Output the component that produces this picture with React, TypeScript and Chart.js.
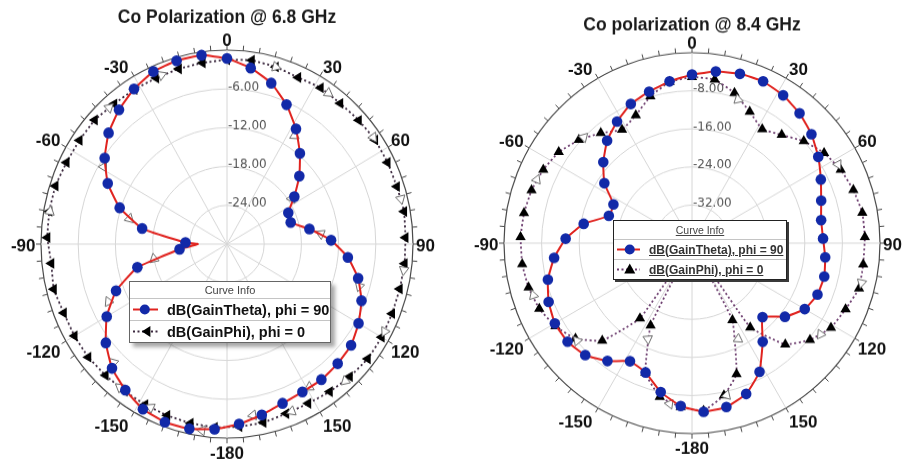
import React, { useEffect, useRef } from 'react';
import { Chart, registerables } from 'chart.js';

Chart.register(...registerables);

// ---------------- shared ----------------
const angleTickLabels = [0, 30, 60, 90, 120, 150, -180, -150, -120, -90, -60, -30];
const seriesNames = ['dB(GainTheta), phi = 90', 'dB(GainPhi), phi = 0'];
const legendTitle = 'Curve Info';

// ---------------- 6.8 GHz ----------------
const title68 = 'Co Polarization @ 6.8 GHz';
const radialTicks68 = [-30, -24, -18, -12, -6, 0];
const thetaAngles68 = [0, 8, 16, 24, 32, 40, 48, 56, 64, 72, 80, 88, 96, 104, 112, 120, 128, 136, 144, 152, 160, 168, 176, 184, 192, 200, 208, 216, 224, 232, 240, 248, 256, 264, 270, 272, 280, 288, 296, 304, 312, 320, 328, 336, 344, 352];
const thetaGain68 = [-1.3, -2.5, -4.1, -6.4, -9.0, -11.7, -14.3, -16.9, -19.0, -19.2, -16.5, -13.2, -10.4, -8.2, -6.6, -5.5, -4.6, -4.3, -4.1, -4.1, -3.8, -3.0, -2.1, -1.3, -0.8, -0.7, -1.1, -2.1, -3.3, -5.2, -7.6, -10.7, -15.1, -22.3, -25.3, -23.3, -16.1, -11.8, -8.6, -6.2, -4.3, -2.9, -1.7, -0.8, -0.5, -0.5];
const phiAngles68 = [0, 8, 16, 24, 32, 40, 48, 56, 64, 72, 80, 88, 96, 104, 112, 120, 128, 136, 144, 152, 160, 168, 176, 184, 192, 200, 208, 216, 224, 232, 240, 248, 256, 264, 272, 280, 288, 296, 304, 312, 320, 328, 336, 344, 352];
const phiGain68 = [-1.5, -1.3, -1.5, -1.8, -1.5, -1.6, -1.4, -1.2, -1.2, -1.2, -1.0, -1.2, -1.2, -1.3, -1.3, -1.2, -1.2, -1.5, -1.8, -2.1, -2.1, -1.8, -1.7, -1.6, -1.7, -1.8, -1.9, -1.9, -1.8, -1.6, -1.6, -1.6, -1.2, -1.5, -1.0, -0.9, -0.9, -1.2, -1.3, -1.3, -1.7, -1.8, -1.9, -1.8, -1.7];
const thetaArrowAngles68 = [33, 56, 84, 107, 149, 171, 188, 225, 245, 259, 284, 301];
const thetaArrowGain68 = [-10.0, -17.4, -14.8, -7.7, -4.2, -3.2, -0.9, -4.1, -8.9, -18.0, -13.8, -6.8];
const phiArrowAngles68 = [16, 35, 55, 76, 98, 118, 138, 158, 206, 218, 280, 318, 338];
const phiArrowGain68 = [-1.5, -1.5, -1.2, -1.1, -1.2, -1.2, -1.5, -2.1, -1.9, -1.9, -1.0, -1.6, -1.8];

// ---------------- 8.4 GHz ----------------
const title84 = 'Co polarization @ 8.4 GHz';
const radialTicks84 = [-40, -32, -24, -16, -8, 0];
const thetaAngles84 = [0, 8, 16, 24, 32, 40, 48, 56, 64, 72, 80, 88, 96, 104, 112, 120, 128, 136, 144, 152, 160, 168, 176, 184, 192, 200, 208, 216, 224, 232, 240, 248, 256, 264, 272, 280, 288, 296, 304, 312, 320, 328, 336, 344, 352];
const thetaGain84 = [-4.6, -3.6, -3.0, -2.8, -3.4, -4.4, -5.8, -7.6, -9.5, -11.1, -12.1, -12.1, -11.5, -11.0, -11.2, -12.3, -14.9, -18.4, -14.4, -9.4, -6.3, -4.8, -4.5, -5.7, -8.0, -11.1, -11.9, -9.4, -7.3, -6.4, -6.3, -7.1, -8.4, -10.5, -13.1, -16.6, -21.4, -21.4, -17.5, -14.6, -11.9, -9.9, -8.0, -6.9, -5.7];
const phiAngles84 = [0, 8, 16, 24, 32, 40, 48, 56, 64, 72, 80, 88, 97, 105, 113, 121, 129, 137, 145, 149, 152, 161, 168, 176, 184, 192, 200, 207, 210, 215, 223, 231, 239, 247, 255, 263, 272, 280, 288, 296, 304, 312, 320, 328, 336, 344, 352];
const phiGain84 = [-5.1, -5.3, -7.2, -9.8, -11.8, -10.3, -8.0, -6.1, -4.8, -3.9, -3.2, -3.2, -3.3, -3.2, -4.5, -5.5, -7.7, -10.9, -18.4, -38, -21.7, -10.9, -7.3, -4.7, -5.5, -7.0, -11.0, -20.6, -38, -20.7, -12.0, -8.1, -6.1, -4.7, -4.0, -3.6, -3.5, -3.7, -4.1, -4.8, -5.8, -7.6, -9.8, -11.9, -10.6, -7.9, -5.8];
const phiArrowAngles84 = [18, 62, 103, 125, 154, 167, 188, 205, 230, 252, 292, 314];
const phiArrowGain84 = [-8.3, -4.8, -3.0, -6.6, -17.6, -7.2, -5.9, -17.8, -8.1, -4.5, -4.4, -8.0];

// ---------------- helpers ----------------
const SLOTS = 360;
const slotLabels = Array.from({ length: SLOTS }, (_, i) => String(i > 180 ? i - SLOTS : i));
function toSlots(angles: number[], values: number[]) {
  const out: (number | null)[] = new Array(SLOTS).fill(null);
  angles.forEach((a, k) => {
    out[((Math.round(a) % SLOTS) + SLOTS) % SLOTS] = values[k];
  });
  return out;
}

const FONT = '"Liberation Sans", Arial, Helvetica, sans-serif';

const polarDecor = {
  id: 'polarDecor',
  beforeDatasetsDraw(chart: any, _a: any, o: any) {
    const s = chart.scales.r;
    const ctx = chart.ctx;
    const R = s.drawingArea;
    ctx.save();
    ctx.strokeStyle = o.tickColor;
    ctx.lineWidth = 1;
    ctx.beginPath();
    for (let i = 0; i < SLOTS; i += 5) {
      const a = s.getPointPosition(i, R);
      const b = s.getPointPosition(i, R + o.tickLen);
      ctx.moveTo(a.x, a.y);
      ctx.lineTo(b.x, b.y);
    }
    ctx.stroke();
    ctx.font = o.valueFont;
    ctx.fillStyle = o.valueColor;
    ctx.textAlign = 'left';
    ctx.textBaseline = 'middle';
    for (const v of o.values) {
      const d = s.getDistanceFromCenterForValue(v);
      ctx.fillText(v.toFixed(2), s.xCenter + 1, s.yCenter - d - 1.5);
    }
    ctx.restore();
  },
  afterDraw(chart: any, _a: any, o: any) {
    const s = chart.scales.r;
    const ctx = chart.ctx;
    const R = s.drawingArea;
    ctx.save();
    ctx.font = o.angleFont;
    ctx.fillStyle = o.angleColor;
    ctx.textBaseline = 'middle';
    for (const t of o.angles) {
      const idx = ((t % SLOTS) + SLOTS) % SLOTS;
      const p = s.getPointPosition(idx, R);
      const rad = (idx * Math.PI) / 180;
      const sn = Math.sin(rad);
      const cs = Math.cos(rad);
      let x = p.x;
      ctx.textAlign = 'center';
      if (sn > 0.01) {
        ctx.textAlign = 'left';
        x += o.gapRight;
      } else if (sn < -0.01) {
        ctx.textAlign = 'right';
        x -= o.gapLeft;
      }
      const dy = cs >= 0 ? 2 - 11 * Math.sqrt(cs) : 2 + 13.5 * Math.sqrt(-cs);
      ctx.fillText(String(t), x, p.y + dy / o.scaleY);
    }
    ctx.restore();
  },
};

type PanelCfg = {
  title: string;
  ticks: number[];
  thetaAngles: number[];
  thetaGain: number[];
  phiAngles: number[];
  phiGain: number[];
  thetaArrowAngles: number[];
  thetaArrowGain: number[];
  phiArrowAngles: number[];
  phiArrowGain: number[];
  thetaMarkerEvery: number;
  phiRotation: number;
  // layout / style
  left: number;
  width: number;
  height: number;
  scaleY: number;
  pad: { left: number; right: number; bottom: number };
  titlePad: { top: number; bottom: number };
  phiColor: string;
};

function PolarPanel({ cfg }: { cfg: PanelCfg }) {
  const ref = useRef<HTMLCanvasElement | null>(null);
  useEffect(() => {
    if (!ref.current) return;
    const min = cfg.ticks[0];
    const max = cfg.ticks[cfg.ticks.length - 1];
    const step = cfg.ticks[1] - cfg.ticks[0];
    const datasets: any[] = [
      {
        label: seriesNames[0],
        data: toSlots(cfg.thetaAngles, cfg.thetaGain),
        spanGaps: true,
        fill: false,
        borderColor: '#e0231f',
        borderWidth: 2,
        tension: 0.12,
        pointStyle: 'circle',
        pointRadius: (c: any) => (c.dataIndex % cfg.thetaMarkerEvery === 0 ? 5.3 : 0),
        pointBackgroundColor: '#1229a8',
        pointBorderColor: '#1229a8',
        pointBorderWidth: 0,
      },
      {
        label: 'theta arrows',
        data: toSlots(cfg.thetaArrowAngles, cfg.thetaArrowGain),
        spanGaps: true,
        showLine: false,
        fill: false,
        pointStyle: 'triangle',
        pointRadius: 5.5,
        pointRotation: (c: any) => c.dataIndex + 90,
        pointBackgroundColor: '#ffffff',
        pointBorderColor: '#6e6e6e',
        pointBorderWidth: 1,
      },
      {
        label: 'phi arrows',
        data: toSlots(cfg.phiArrowAngles, cfg.phiArrowGain),
        spanGaps: true,
        showLine: false,
        fill: false,
        pointStyle: 'triangle',
        pointRadius: 5.5,
        pointRotation: (c: any) => c.dataIndex + 90,
        pointBackgroundColor: '#ffffff',
        pointBorderColor: '#6e6e6e',
        pointBorderWidth: 1,
      },
      {
        label: seriesNames[1],
        data: toSlots(cfg.phiAngles, cfg.phiGain),
        spanGaps: true,
        fill: false,
        borderColor: cfg.phiColor,
        borderWidth: 1.8,
        borderDash: [2, 2.5],
        tension: 0.1,
        pointStyle: 'triangle',
        pointRadius: 6,
        pointRotation: cfg.phiRotation,
        pointBackgroundColor: '#000000',
        pointBorderColor: '#000000',
        pointBorderWidth: 0,
      },
    ];
    const chart = new Chart(ref.current, {
      type: 'radar',
      data: { labels: slotLabels, datasets },
      options: {
        responsive: false,
        animation: false,
        devicePixelRatio: 1,
        events: [],
        layout: { padding: { left: cfg.pad.left, right: cfg.pad.right, top: 0, bottom: cfg.pad.bottom } },
        plugins: {
          legend: { display: false },
          tooltip: { enabled: false },
          title: {
            display: true,
            text: cfg.title,
            color: '#1a1a1a',
            font: { family: FONT, size: 17.5, weight: 'bold', lineHeight: 1 },
            padding: { top: cfg.titlePad.top, bottom: cfg.titlePad.bottom },
          },
          polarDecor: {
            tickColor: '#4a4a4a',
            tickLen: 5,
            values: cfg.ticks.slice(1, -1),
            valueFont: '12px "DejaVu Sans", Verdana, sans-serif',
            valueColor: '#555555',
            angles: angleTickLabels,
            angleFont: `bold 17px ${FONT}`,
            angleColor: '#111111',
            gapRight: 3,
            gapLeft: 5.5,
            scaleY: cfg.scaleY,
          },
        } as any,
        scales: {
          r: {
            min,
            max,
            startAngle: 0,
            beginAtZero: false,
            ticks: { display: false, stepSize: step },
            pointLabels: { display: false },
            grid: {
              circular: true,
              color: (c: any) => (c.tick && c.tick.value === max ? '#4a4a4a' : '#d6d6d6'),
              lineWidth: (c: any) => (c.tick && c.tick.value === max ? 1.2 : 1),
            },
            angleLines: {
              display: true,
              color: (c: any) => (c.index % 30 === 0 ? '#d6d6d6' : 'rgba(0,0,0,0)'),
              lineWidth: (c: any) => (c.index % 30 === 0 ? 1 : 0),
            },
          },
        } as any,
      },
      plugins: [polarDecor as any],
    });
    return () => chart.destroy();
  }, [cfg]);
  return (
    <div
      style={{
        position: 'absolute',
        left: cfg.left,
        top: 0,
        width: cfg.width,
        height: cfg.height,
        transform: `scaleY(${cfg.scaleY})`,
        transformOrigin: '0 0',
      }}
    >
      <canvas ref={ref} width={cfg.width} height={cfg.height} style={{ display: 'block' }} />
    </div>
  );
}

type LegendCfg = {
  left: number;
  top: number;
  width: number;
  headH: number;
  rowH: number;
  markerW: number;
  fontSize: number;
  headSize: number;
  underline: boolean;
  shadow: string;
  border: string;
  textColor: string;
  phiMarker: 'left' | 'up';
  phiColor: string;
};

function CurveLegend({ c }: { c: LegendCfg }) {
  const deco = c.underline ? 'underline' : 'none';
  const mid = c.rowH / 2;
  const tri =
    c.phiMarker === 'left'
      ? `${c.markerW * 0.32},${mid} ${c.markerW * 0.55},${mid - 5.5} ${c.markerW * 0.55},${mid + 5.5}`
      : `${c.markerW * 0.45},${mid - 6} ${c.markerW * 0.45 + 5.5},${mid + 4} ${c.markerW * 0.45 - 5.5},${mid + 4}`;
  const dotX = c.phiMarker === 'left' ? c.markerW * 0.4 : c.markerW * 0.45;
  return (
    <div
      style={{
        position: 'absolute',
        left: c.left,
        top: c.top,
        width: c.width,
        background: '#ffffff',
        border: c.border,
        boxShadow: c.shadow,
        boxSizing: 'border-box',
        fontFamily: FONT,
        zIndex: 5,
      }}
    >
      <div
        style={{
          height: c.headH,
          lineHeight: `${c.headH}px`,
          textAlign: 'center',
          fontSize: c.headSize,
          color: '#444',
          textDecoration: deco,
          borderBottom: '1px solid #c4c4c4',
        }}
      >
        {legendTitle}
      </div>
      <div style={{ height: c.rowH, display: 'flex', alignItems: 'center', borderBottom: '1px solid #c4c4c4' }}>
        <svg width={c.markerW} height={c.rowH} style={{ flex: 'none' }}>
          <line x1={3} y1={mid} x2={c.markerW - 9} y2={mid} stroke="#e0231f" strokeWidth={2} />
          <circle cx={dotX} cy={mid} r={5} fill="#1229a8" />
        </svg>
        <span style={{ fontWeight: 'bold', fontSize: c.fontSize, color: c.textColor, textDecoration: deco, whiteSpace: 'nowrap' }}>
          {seriesNames[0]}
        </span>
      </div>
      <div style={{ height: c.rowH, display: 'flex', alignItems: 'center' }}>
        <svg width={c.markerW} height={c.rowH} style={{ flex: 'none' }}>
          <line x1={3} y1={mid} x2={c.markerW - 9} y2={mid} stroke={c.phiColor} strokeWidth={1.8} strokeDasharray="2 2.5" />
          <polygon points={tri} fill="#000" />
        </svg>
        <span style={{ fontWeight: 'bold', fontSize: c.fontSize, color: c.textColor, textDecoration: deco, whiteSpace: 'nowrap' }}>
          {seriesNames[1]}
        </span>
      </div>
    </div>
  );
}

const panel68: PanelCfg = {
  title: title68,
  ticks: radialTicks68,
  thetaAngles: thetaAngles68,
  thetaGain: thetaGain68,
  phiAngles: phiAngles68,
  phiGain: phiGain68,
  thetaArrowAngles: thetaArrowAngles68,
  thetaArrowGain: thetaArrowGain68,
  phiArrowAngles: phiArrowAngles68,
  phiArrowGain: phiArrowGain68,
  thetaMarkerEvery: 8,
  phiRotation: -90,
  left: 0,
  width: 452,
  height: 442,
  scaleY: 1.043,
  pad: { left: 41, right: 39, bottom: 22 },
  titlePad: { top: 8.5, bottom: 22 },
  phiColor: '#3d2a40',
};

const panel84: PanelCfg = {
  title: title84,
  ticks: radialTicks84,
  thetaAngles: thetaAngles84,
  thetaGain: thetaGain84,
  phiAngles: phiAngles84,
  phiGain: phiGain84,
  thetaArrowAngles: [],
  thetaArrowGain: [],
  phiArrowAngles: phiArrowAngles84,
  phiArrowGain: phiArrowGain84,
  thetaMarkerEvery: 1,
  phiRotation: 0,
  left: 452,
  width: 452,
  height: 455,
  scaleY: 1.013,
  pad: { left: 52, right: 24, bottom: 27 },
  titlePad: { top: 16, bottom: 18.5 },
  phiColor: '#6e3f70',
};

const legend68: LegendCfg = {
  left: 129,
  top: 281,
  width: 202,
  headH: 16,
  rowH: 21,
  markerW: 37,
  fontSize: 14.5,
  headSize: 11,
  underline: false,
  shadow: '4px 4px 4px rgba(0,0,0,0.35)',
  border: '1px solid #666',
  textColor: '#111',
  phiMarker: 'left',
  phiColor: '#3d2a40',
};

const legend84: LegendCfg = {
  left: 613,
  top: 220,
  width: 174,
  headH: 18,
  rowH: 19,
  markerW: 35,
  fontSize: 12,
  headSize: 10.5,
  underline: true,
  shadow: '2px 2px 0 #3a3a3a',
  border: '1px solid #222',
  textColor: '#333',
  phiMarker: 'up',
  phiColor: '#6e3f70',
};

export default function App() {
  return (
    <div
      style={{
        position: 'fixed',
        left: 0,
        top: 0,
        width: 904,
        height: 461,
        overflow: 'hidden',
        background: '#ffffff',
      }}
    >
      <PolarPanel cfg={panel68} />
      <PolarPanel cfg={panel84} />
      <CurveLegend c={legend68} />
      <CurveLegend c={legend84} />
    </div>
  );
}
